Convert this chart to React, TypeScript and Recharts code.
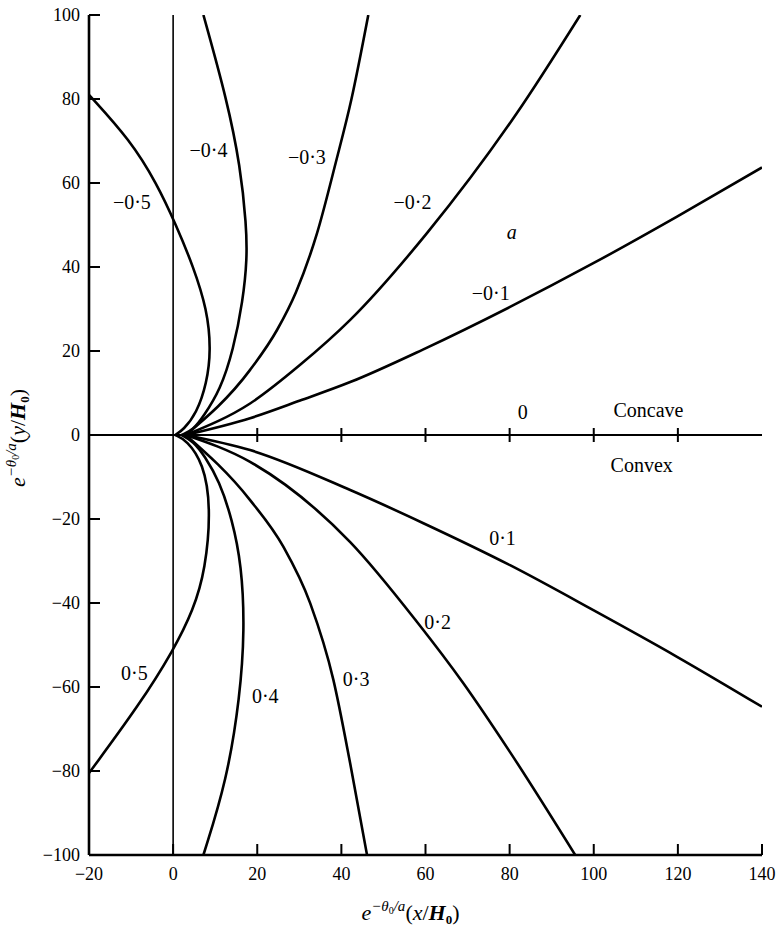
import React from "react";
import { ComposedChart, Line, Scatter, XAxis, YAxis, ReferenceLine } from "recharts";

const xTicks = [-20, 0, 20, 40, 60, 80, 100, 120, 140];
const yTicks = [-100, -80, -60, -40, -20, 0, 20, 40, 60, 80, 100];
const zeroLineTicks = [20, 40, 60, 80, 100, 120];

// Concave family (upper half)
const curveM01 = [[3, 0], [18.3, 4.0], [30.2, 8.2], [42.1, 12.6], [59.5, 20.4], [80.1, 30.5], [99.9, 40.9], [119.8, 52.0], [140, 63.7]];
const curveM02 = [[3, 0], [18.3, 7.5], [30.2, 16.7], [42.1, 27.4], [60.3, 48.0], [81.7, 76.6], [96.8, 100]];
const curveM03 = [[3, 0], [18.3, 15.5], [24.7, 25], [29.2, 34], [34.2, 48], [38.7, 65], [42.4, 80], [46.4, 100]];
const curveM04 = [[2, 0], [4.8, 1.2], [7.2, 4.4], [11.2, 10.7], [14.3, 20.2], [16.6, 32], [17.6, 42], [17.4, 50], [16.0, 63.9], [12.8, 79.8], [7.2, 100]];
const curveM05 = [[0.5, 0], [2.4, 1.2], [5.6, 5.2], [8.0, 12.3], [9.0, 20.2], [8.1, 29.8], [4.8, 40.1], [0.7, 50], [-3.9, 59.9], [-10.2, 70.2], [-20, 81]];

// Convex family (lower half)
const curveP01 = [[3, 0], [18.3, -3.6], [42.1, -13.1], [59.5, -21.0], [80.1, -31.0], [99.9, -41.7], [119.8, -52.8], [140, -64.7]];
const curveP02 = [[3, 0], [18.3, -6.4], [42.1, -25.5], [57.9, -44.4], [69.0, -59.1], [80.1, -75.5], [95.6, -100]];
const curveP03 = [[3, 0], [18.3, -15.5], [26.2, -26.6], [32.6, -40.1], [38.1, -58.3], [42.1, -78.2], [46.1, -100]];
const curveP04 = [[2, 0], [4.8, -1.5], [7.5, -5], [11.0, -11], [14.0, -20], [16.3, -31], [17.0, -46.4], [15.9, -62.3], [12.8, -82.1], [7.2, -100]];
const curveP05 = [[0.5, 0], [3.2, -1.2], [7.2, -6.7], [9.0, -17.1], [7.7, -32.1], [4.8, -41.7], [0.1, -51.2], [-7.8, -63.9], [-20, -80.5]];

const curves = [curveM01, curveM02, curveM03, curveM04, curveM05, curveP01, curveP02, curveP03, curveP04, curveP05];
const curveTypes = ["monotoneX", "monotoneX", "monotoneX", "basis", "basis", "monotoneX", "monotoneX", "monotoneX", "basis", "basis"];

// Annotation labels: text and its anchor in data coordinates
const labelTexts = ["\u22120\u00b75", "\u22120\u00b74", "\u22120\u00b73", "\u22120\u00b72", "a", "\u22120\u00b71", "0", "Concave", "Convex", "0\u00b71", "0\u00b72", "0\u00b73", "0\u00b74", "0\u00b75"];
const labelX = [-9.8, 8.4, 31.8, 56.9, 80.5, 75.5, 83.1, 113.0, 111.4, 78.3, 62.9, 43.5, 21.9, -9.2];
const labelY = [55.5, 67.9, 66.3, 55.5, 48.4, 33.7, 5.5, 6.0, -7.1, -24.6, -44.5, -58.2, -62.1, -56.7];

const FONT = "'Liberation Serif', 'DejaVu Serif', serif";
const fmt = (v: number) => (v < 0 ? "\u2212" + Math.abs(v) : String(v));

const toPts = (c: number[][]) => c.map(([x, y]) => ({ x, y }));
const labelData = labelTexts.map((t, i) => ({ x: labelX[i], y: labelY[i], text: t }));
const zeroTickData = zeroLineTicks.map((x) => ({ x, y: 0 }));

const TL = 11;
const txt = (size: number, extra: any = {}) => ({ fontFamily: FONT, fontSize: size, ...extra });

const BottomTick = (p: any) => (
  <g>
    <line x1={p.x} y1={p.y} x2={p.x} y2={p.y - TL} stroke="#000" strokeWidth={2} />
    <text x={p.x} y={p.y + 25} textAnchor="middle" fill="#000" style={txt(18)}>
      {fmt(p.payload.value)}
    </text>
  </g>
);
const TopTick = (p: any) => (
  <line x1={p.x} y1={p.y} x2={p.x} y2={p.y + TL} stroke="#000" strokeWidth={2} />
);
const LeftTick = (p: any) => (
  <g>
    <line x1={p.x} y1={p.y} x2={p.x + TL} y2={p.y} stroke="#000" strokeWidth={2} />
    <text x={p.x - 9} y={p.y + 6} textAnchor="end" fill="#000" style={txt(18)}>
      {fmt(p.payload.value)}
    </text>
  </g>
);
const RightTick = (p: any) => (
  <line x1={p.x} y1={p.y} x2={p.x - TL} y2={p.y} stroke="#000" strokeWidth={2} />
);

const TitleBody = ({ v }: { v: string }) => (
  <>
    <tspan style={{ fontStyle: "italic" }}>e</tspan>
    <tspan dy={-9} style={{ fontStyle: "italic", fontSize: 15 }}>{"\u2212\u03b8"}</tspan>
    <tspan dy={3} style={{ fontSize: 10 }}>0</tspan>
    <tspan dy={-3} style={{ fontStyle: "italic", fontSize: 15 }}>{"/a"}</tspan>
    <tspan dy={9}>(</tspan>
    <tspan style={{ fontStyle: "italic" }}>{v}</tspan>
    <tspan>/</tspan>
    <tspan style={{ fontStyle: "italic", fontWeight: "bold" }}>H</tspan>
    <tspan dy={4} style={{ fontWeight: "bold", fontSize: 13 }}>0</tspan>
    <tspan dy={-4}>)</tspan>
  </>
);

const XTitle = (props: any) => {
  const vb = props.viewBox || {};
  const cx = (vb.x ?? 0) + (vb.width ?? 0) / 2 - 15;
  return (
    <text x={cx} y={920} textAnchor="middle" fill="#000" style={txt(22)}>
      <TitleBody v="x" />
    </text>
  );
};

const YTitle = (props: any) => {
  const vb = props.viewBox || {};
  const cy = (vb.y ?? 0) + (vb.height ?? 0) / 2 + 3;
  const x = 25;
  return (
    <text x={x} y={cy} transform={`rotate(-90, ${x}, ${cy})`} textAnchor="middle" fill="#000" style={txt(22)}>
      <TitleBody v="y" />
    </text>
  );
};

const LabelShape = (p: any) => (
  <text
    x={p.cx}
    y={p.cy + 7}
    textAnchor="middle"
    fill="#000"
    style={txt(20, { fontStyle: p.payload.text === "a" ? "italic" : "normal" })}
  >
    {p.payload.text}
  </text>
);

const ZeroTickShape = (p: any) => (
  <line x1={p.cx} y1={p.cy - 7} x2={p.cx} y2={p.cy + 7} stroke="#000" strokeWidth={2} />
);

export default function App() {
  return (
    <div style={{ position: "absolute", left: 0, top: 0, width: 777, height: 928, background: "#fff", overflow: "hidden" }}>
      <ComposedChart width={777} height={928} margin={{ top: 15, right: 15, bottom: 0, left: 0 }}>
        <XAxis
          type="number"
          dataKey="x"
          domain={[-20, 140]}
          ticks={xTicks}
          interval={0}
          allowDataOverflow
          height={73}
          tickSize={0}
          tickMargin={0}
          tickLine={false}
          axisLine={{ stroke: "#000", strokeWidth: 2.6 }}
          tick={BottomTick}
          label={{ content: XTitle }}
        />
        <XAxis
          xAxisId="t"
          orientation="top"
          type="number"
          dataKey="x"
          domain={[-20, 140]}
          ticks={xTicks}
          interval={0}
          allowDataOverflow
          height={0}
          tickSize={0}
          tickMargin={0}
          tickLine={false}
          axisLine={{ stroke: "#000", strokeWidth: 2.6 }}
          tick={TopTick}
        />
        <YAxis
          type="number"
          dataKey="y"
          domain={[-100, 100]}
          ticks={yTicks}
          interval={0}
          allowDataOverflow
          width={89}
          tickSize={0}
          tickMargin={0}
          tickLine={false}
          axisLine={{ stroke: "#000", strokeWidth: 2.6 }}
          tick={LeftTick}
          label={{ content: YTitle }}
        />
        <YAxis
          yAxisId="r"
          orientation="right"
          type="number"
          dataKey="y"
          domain={[-100, 100]}
          ticks={yTicks}
          interval={0}
          allowDataOverflow
          width={0}
          tickSize={0}
          tickMargin={0}
          tickLine={false}
          axisLine={{ stroke: "#000", strokeWidth: 2.6 }}
          tick={RightTick}
        />
        <ReferenceLine x={0} stroke="#000" strokeWidth={1.6} />
        <ReferenceLine y={0} stroke="#000" strokeWidth={2.2} />
        {curves.map((c, i) => (
          <Line
            key={i}
            data={toPts(c)}
            dataKey="y"
            type={curveTypes[i] as any}
            stroke="#000"
            strokeWidth={2.6}
            dot={false}
            activeDot={false}
            isAnimationActive={false}
          />
        ))}
        <Scatter data={zeroTickData} dataKey="y" shape={ZeroTickShape} isAnimationActive={false} />
        <Scatter data={labelData} dataKey="y" shape={LabelShape} isAnimationActive={false} />
      </ComposedChart>
    </div>
  );
}
